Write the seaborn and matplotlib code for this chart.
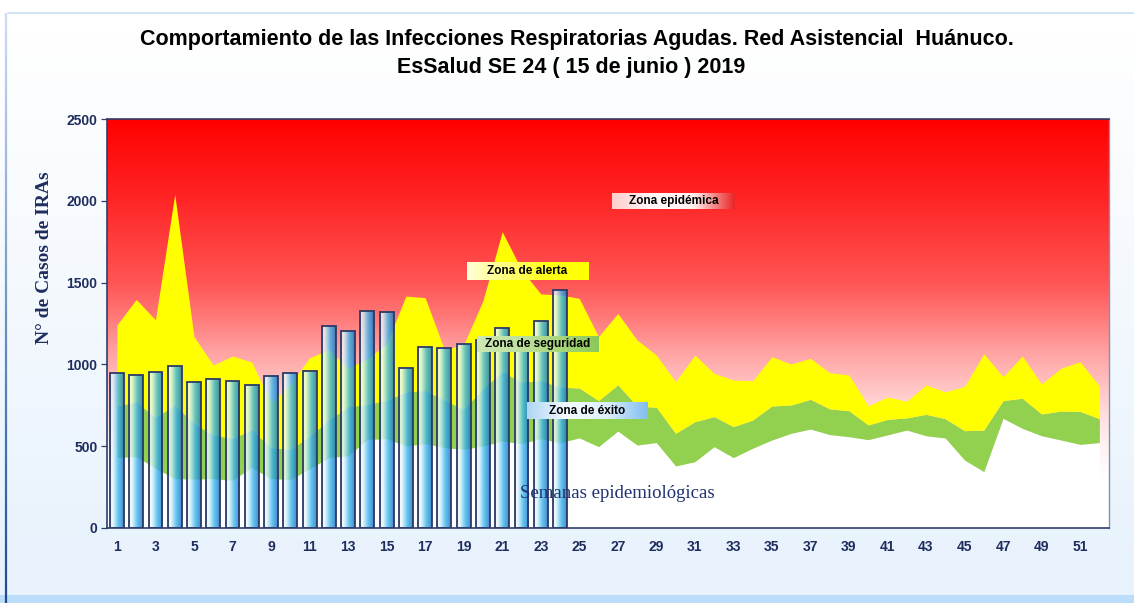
import numpy as np
import pandas as pd
import matplotlib
matplotlib.use("Agg")
import matplotlib.pyplot as plt
import seaborn as sns
from matplotlib import font_manager
from matplotlib.collections import LineCollection

# ---------------- data ----------------
weeks = list(range(1, 53))
weeks_2019 = list(range(1, 25))
cases_2019 = [945, 935, 953, 990, 892, 910, 900, 873, 931, 945, 957, 1237,
              1202, 1326, 1320, 976, 1108, 1100, 1127, 1150, 1222, 1120, 1263, 1453]
exito_top = [430, 435, 365, 300, 298, 300, 290, 370, 300, 295, 360, 430,
             440, 540, 545, 500, 515, 490, 480, 500, 530, 515, 545, 520,
             550, 496, 592, 506, 521, 378, 404, 496, 429, 486, 537, 578,
             604, 570, 557, 539, 568, 598, 563, 549, 414, 343, 670, 608,
             563, 537, 510, 521]
seguridad_top = [745, 771, 675, 751, 639, 567, 547, 600, 490, 480, 560, 660,
                 740, 755, 780, 830, 840, 780, 725, 850, 955, 890, 900, 860,
                 855, 778, 874, 745, 737, 578, 649, 680, 619, 659, 745, 751,
                 786, 727, 716, 629, 663, 672, 694, 667, 594, 598, 778, 792,
                 696, 714, 712, 667]
alerta_top = [1241, 1398, 1272, 2041, 1170, 996, 1051, 1014, 765, 880, 1040, 1090,
              975, 1035, 1125, 1418, 1408, 1090, 1120, 1390, 1812, 1580, 1431, 1425,
              1404, 1170, 1312, 1149, 1057, 894, 1057, 945, 904, 900, 1047, 1002,
              1037, 949, 935, 747, 800, 774, 874, 831, 865, 1065, 925, 1051,
              880, 976, 1016, 867]
y_max = 2500
ytick_vals = [0, 500, 1000, 1500, 2000, 2500]
xtick_weeks = list(range(1, 52, 2))
title_lines = ["Comportamiento de las Infecciones Respiratorias Agudas. Red Asistencial  Huánuco.",
               "EsSalud SE 24 ( 15 de junio ) 2019"]
zone_labels = ["Zona epidémica", "Zona de alerta", "Zona de seguridad", "Zona de éxito"]
ylabel_text = "N° de Casos de IRAs"
xlabel_text = "Semanas epidemiológicas"

# ---------------- style ----------------
sns.set_theme(style="white")
names = {f.name for f in font_manager.fontManager.ttflist}
narrow = "Liberation Sans Narrow" if "Liberation Sans Narrow" in names else "Liberation Sans"
plt.rcParams['font.family'] = ['Liberation Sans', 'DejaVu Sans']
navy = "#1F2D5E"

W, H = 1134, 603
fig = plt.figure(figsize=(W / 100, H / 100), dpi=100)

# figure background gradient
bg = fig.add_axes([0, 0, 1, 1], zorder=-10)
rows = np.linspace(0, 1, H)
top_c = np.array([1.0, 1.0, 1.0])
bot_c = np.array([0.91, 0.95, 0.99])
grad = top_c[None, :] + (bot_c - top_c)[None, :] * np.clip((rows[:, None] - 0.05) / 0.9, 0, 1)
band = rows > 0.988
grad[band] = np.array([0.74, 0.87, 0.98])
bg.imshow(grad[:, None, :], extent=[0, 1, 0, 1], aspect='auto', origin='upper')
bg.set_xlim(0, 1); bg.set_ylim(0, 1); bg.axis('off')
# frame lines
bg.plot([8 / W, 1], [1 - 12.5 / H, 1 - 12.5 / H], color="#C9DEF3", lw=1.2)
ys = np.linspace(1 - 12.5 / H, 0, 60)
segs = [[(6 / W, ys[i]), (6 / W, ys[i + 1])] for i in range(len(ys) - 1)]
cols = [(0.78 - 0.66 * t, 0.87 - 0.58 * t, 0.96 - 0.4 * t) for t in np.linspace(0, 1, len(segs))]
bg.add_collection(LineCollection(segs, colors=cols, linewidths=1.6))

# main axes
x0p, x1p, y0p, y1p = 107.3, 1109, 527.7, 119.3
ax = fig.add_axes([x0p / W, 1 - y0p / H, (x1p - x0p) / W, (y0p - y1p) / H])

# red zone gradient background
vals = np.linspace(y_max, 0, 600)
sv = [0, 300, 500, 700, 900, 1100, 1300, 1500, 2000, 2500]
sg = [255, 255, 242, 220, 190, 158, 118, 85, 38, 0]
gb = np.interp(vals, sv, sg) / 255.0
red = np.stack([np.ones_like(gb), gb, gb], axis=1)[:, None, :]
ax.imshow(red, extent=(-0.5, 51.5, 0, y_max), aspect='auto', origin='upper', zorder=0)

xs = np.arange(len(weeks))
ax.fill_between(xs, 0, exito_top, color="white", lw=0, zorder=1)
ax.fill_between(xs, exito_top, seguridad_top, color="#92D050", lw=0, zorder=1)
ax.fill_between(xs, seguridad_top, alerta_top, color="#FFFF00", lw=0, zorder=1)

# bars
df = pd.DataFrame({"week": weeks_2019, "cases": cases_2019})
sns.barplot(data=df, x="week", y="cases", ax=ax, width=0.72,
            facecolor=(0, 0, 0, 0), edgecolor="#2B3A67", linewidth=1.3, zorder=4)
bar_patches = list(ax.patches)
stops = np.array([0.0, 0.1, 0.3, 0.6, 0.85, 1.0])
cr = np.array([[150, 180, 215], [255, 255, 255], [185, 232, 248],
               [60, 180, 235], [35, 140, 215], [35, 95, 165]]) / 255.0
tt = np.linspace(0, 1, 64)
bar_grad = np.stack([np.interp(tt, stops, cr[:, k]) for k in range(3)], axis=1)
bar_rgba = np.concatenate([bar_grad, np.full((64, 1), 0.8)], axis=1)[None, :, :]
for p in bar_patches:
    bx, bw, bh = p.get_x(), p.get_width(), p.get_height()
    im = ax.imshow(bar_rgba, extent=(bx, bx + bw, 0, bh), aspect='auto', zorder=3,
                   interpolation='bilinear')
    im.set_clip_path(p)
    p.set_zorder(4)

# zone labels with gradient boxes
def px2x(px):
    return (px - x0p) / ((x1p - x0p) / 52) - 0.5

def py2y(py):
    return (y0p - py) / ((y0p - y1p) / y_max)

boxes = [
    (612, 735, 193, 209, [(255, 205, 205), (255, 250, 250), (255, 240, 240), (235, 40, 40)]),
    (467, 588, 262, 280, [(255, 255, 215), (255, 255, 120), (255, 255, 20), (255, 255, 0)]),
    (477, 598, 336, 352, [(205, 232, 180), (190, 225, 160), (170, 215, 125), (140, 200, 90)]),
    (527, 648, 403, 419, [(175, 215, 245), (245, 250, 255), (220, 238, 252), (130, 190, 240)]),
]
for label, (bx0, bx1, by0, by1, gcols) in zip(zone_labels, boxes):
    g = np.array(gcols) / 255.0
    st = np.linspace(0, 1, len(gcols))
    t = np.linspace(0, 1, 64)
    arr = np.stack([np.interp(t, st, g[:, k]) for k in range(3)], axis=1)[None, :, :]
    ex = (px2x(bx0), px2x(bx1), py2y(by1), py2y(by0))
    ax.imshow(arr, extent=ex, aspect='auto', zorder=6, interpolation='bilinear')
    ax.text((ex[0] + ex[1]) / 2, (ex[2] + ex[3]) / 2, label, ha='center', va='center',
            fontsize=8.5, fontweight='bold', color='black', zorder=7)

ax.text(px2x(617), py2y(493), xlabel_text, ha='center', va='center',
        family=['Liberation Serif', 'DejaVu Serif'], fontsize=13.5, color="#1F3070", zorder=7)

ax.set_xlim(-0.5, 51.5)
ax.set_ylim(0, y_max)
ax.set_xlabel("")
ax.set_ylabel("")
ax.set_yticks(ytick_vals)
ax.set_yticklabels([str(v) for v in ytick_vals], fontsize=10, fontweight='bold',
                   color=navy, family=[narrow, 'DejaVu Sans'])
ax.set_xticks([w - 1 for w in xtick_weeks])
ax.set_xticklabels([str(w) for w in xtick_weeks], fontsize=10, fontweight='bold',
                   color=navy, family=[narrow, 'DejaVu Sans'])
ax.set_xticks(np.arange(-0.5, 52, 1), minor=True)
ax.tick_params(axis='x', which='major', length=0, pad=9)
ax.tick_params(axis='x', which='minor', length=4, width=0.9, color="#2F3E6B", direction='out')
ax.tick_params(axis='y', which='major', length=4, width=0.9, color="#2F3E6B", direction='out', pad=3)
ax.tick_params(left=True, bottom=True)
for s in ['left', 'bottom', 'top']:
    ax.spines[s].set_color("#2F3E6B")
    ax.spines[s].set_linewidth(1.2)
ax.spines['right'].set_color("#8090B5")
ax.spines['right'].set_linewidth(1.0)
for s in ax.spines.values():
    s.set_zorder(8)

fig.text(45 / W, 1 - 258 / H, ylabel_text, rotation=90, ha='center', va='center',
         family=['Liberation Serif', 'DejaVu Serif'], fontweight='bold', fontsize=14, color=navy)

# titles, sized to the reference widths
t1 = fig.text(577 / W, 1 - 40 / H, title_lines[0], ha='center', va='center',
              fontweight='bold', fontsize=15, color='black', family=[narrow, 'DejaVu Sans'])
t2 = fig.text(571 / W, 1 - 68 / H, title_lines[1], ha='center', va='center',
              fontweight='bold', fontsize=15, color='black', family=[narrow, 'DejaVu Sans'])
fig.canvas.draw()
r = fig.canvas.get_renderer()
w1 = t1.get_window_extent(r).width
fs = min(17, 15 * 877 / w1)
t1.set_fontsize(fs)
t2.set_fontsize(fs)

fig.savefig("out.png", dpi=100)
